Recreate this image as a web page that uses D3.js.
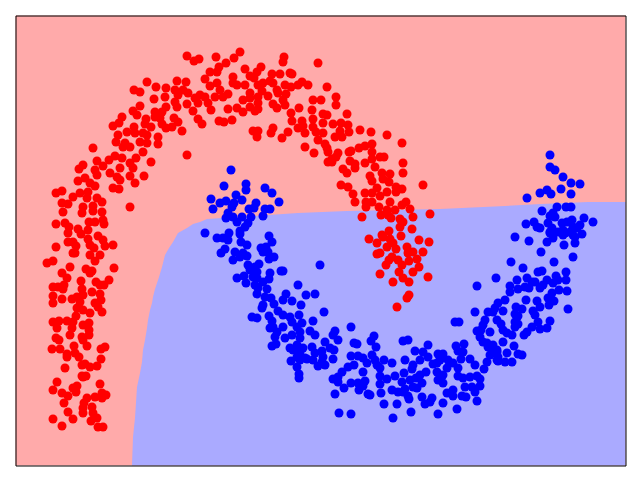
<!DOCTYPE html>
<html>
<head>
<meta charset="utf-8">
<script src="https://cdn.jsdelivr.net/npm/d3@7"></script>
<style>html,body{margin:0;padding:0;background:#fff}svg{display:block}</style>
</head>
<body>
<svg id="chart" width="640" height="480"></svg>
<script>
const xDomain = [-0.5, 609.5];
const yDomain = [-0.5, 449.5];
const regionColors = ["#ffaaaa", "#aaaaff"];
const classColors = ["#ff0000", "#0000ff"];

const boundary = [[116,-0.5],[117,28],[119,47],[121,78],[124,92],[126,103],[127,115],[129,125],[131,137],[132,145],[134,155],[136,162],[137,168],[139,176],[141,182],[143,188],[146,198],[149,210],[153,217],[157,223],[162,232],[171,237],[177,241],[184,243],[191,246],[206,247],[282,252],[331,254],[424,256],[489,259],[525,261],[572,263],[609.5,263]];

const redLower = [[57,212],[59,212],[74,210],[84,210],[79,204],[37,204],[31,202],[54,198],[98,197],[70,196],[76,194],[74,192],[46,192],[51,187],[65,184],[93,185],[80,183],[84,180],[88,180],[48,180],[37,178],[42,178],[47,176],[66,176],[76,173],[84,171],[37,169],[46,166],[37,162],[56,166],[61,168],[67,170],[64,163],[85,165],[79,162],[61,157],[67,155],[82,158],[86,153],[74,152],[60,149],[37,143],[43,144],[51,144],[57,143],[67,140],[73,142],[41,137],[56,137],[73,135],[73,130],[54,130],[66,128],[40,127],[43,125],[67,125],[71,119],[89,118],[85,116],[36,116],[44,116],[58,119],[51,111],[51,108],[59,112],[63,108],[85,106],[66,100],[69,101],[74,98],[81,99],[49,97],[66,89],[70,89],[67,88],[41,83],[84,81],[37,75],[46,72],[52,69],[61,79],[57,77],[60,73],[79,68],[86,72],[90,70],[86,67],[71,67],[68,62],[48,62],[76,58],[67,57],[67,52],[52,53],[77,52],[81,47],[57,46],[37,46],[75,44],[46,39],[82,38],[87,38]];

const redLeft = [[103,342],[97,339],[118,338],[129,341],[135,338],[111,333],[102,330],[119,332],[127,332],[131,330],[142,328],[100,323],[109,322],[107,318],[114,318],[124,323],[131,322],[142,321],[77,317],[127,313],[99,309],[93,305],[106,307],[120,307],[81,304],[87,299],[114,302],[135,303],[67,300],[63,296],[79,295],[81,290],[94,292],[104,297],[117,297],[101,288],[114,289],[128,289],[62,284],[69,287],[74,282],[79,279],[119,282],[104,285],[97,277],[103,276],[46,274],[40,272],[57,268],[64,272],[72,273],[71,267],[81,267],[86,263],[46,262],[52,261],[67,258],[77,259],[47,253],[66,252],[77,254],[86,253],[114,258],[87,245],[79,243],[73,243],[88,241],[40,241],[49,242],[53,238],[52,232],[62,236],[65,231],[72,235],[82,229],[87,225],[72,226],[52,223],[57,223],[60,219],[40,218],[74,220],[78,217],[89,219],[97,220]];

const redTop = [[171,409],[178,404],[183,406],[200,408],[210,402],[203,398],[194,393],[201,393],[189,386],[131,383],[161,384],[170,383],[140,378],[150,377],[118,375],[124,373],[159,375],[167,375],[194,379],[201,382],[204,375],[162,370],[172,372],[212,371],[199,368],[207,368],[138,366],[149,368],[184,370],[189,368],[179,367],[159,363],[124,359],[150,358],[161,358],[171,361],[182,362],[192,362],[177,354],[195,355],[212,356],[117,354],[121,350],[139,353],[146,353],[139,348],[144,347],[158,347],[182,346],[186,341],[203,344],[208,343],[130,346],[162,343],[146,341],[150,337],[156,338],[166,334],[171,310],[106,348]];

const redRight = [[224,413],[218,407],[268,408],[267,403],[302,402],[229,396],[245,398],[241,393],[234,389],[238,387],[256,391],[264,391],[274,392],[276,391],[217,388],[217,382],[229,380],[221,380],[254,384],[247,382],[242,380],[257,382],[269,380],[275,378],[286,383],[282,380],[292,380],[311,378],[246,374],[261,375],[262,372],[234,372],[270,371],[252,369],[242,368],[234,367],[227,365],[267,365],[297,365],[305,365],[320,368],[320,360],[242,362],[257,361],[269,360],[261,357],[234,358],[239,354],[221,357],[227,353],[242,356],[283,357],[296,355],[331,351],[275,352],[307,351],[311,350],[276,344],[286,344],[297,346],[307,342],[216,345],[317,341],[325,342],[287,339],[282,337],[297,338],[332,340],[272,333],[289,332],[300,333],[257,337],[255,332],[237,334],[242,334],[241,328],[266,327],[307,332],[324,334],[319,328],[326,328],[333,333],[302,325],[289,318],[309,321],[311,317],[298,312],[312,313],[320,308],[322,312],[333,313],[316,306],[312,303]];

const redTail = [[355,333],[344,335],[371,330],[386,322],[356,321],[349,319],[343,317],[335,314],[356,313],[364,308],[368,308],[316,303],[334,304],[356,306],[339,301],[387,302],[349,302],[359,298],[339,297],[327,296],[331,292],[387,292],[366,292],[374,291],[354,289],[367,286],[356,284],[373,283],[325,280],[332,278],[407,280],[380,278],[386,276],[380,273],[361,277],[371,273],[337,271],[349,272],[356,272],[364,269],[339,263],[350,263],[356,263],[350,258],[374,263],[390,263],[386,260],[363,258],[394,256],[379,255],[371,255],[414,251],[365,250],[372,250],[346,248],[397,248],[375,247],[384,246],[387,243],[384,238],[396,236],[373,234],[366,230],[385,229],[367,228],[353,226],[361,222],[374,226],[403,225],[413,223],[377,222],[371,218],[380,216],[391,218],[364,212],[361,211],[397,213],[407,213],[392,212],[376,208],[401,206],[373,205],[382,205],[393,204],[386,200],[370,200],[403,198],[383,193],[397,193],[364,191],[412,188],[387,187],[393,183],[377,183],[393,170],[391,167],[381,158]];

const blueUpper = [[215,295],[230,281],[230,275],[208,279],[249,277],[256,272],[220,270],[195,266],[210,264],[204,262],[226,265],[218,262],[216,258],[263,263],[240,262],[197,256],[233,256],[238,257],[249,256],[254,256],[212,252],[247,249],[210,247],[217,248],[226,248],[235,248],[221,243],[232,242],[229,238],[224,234],[224,231],[189,232],[213,232],[201,227],[207,227],[212,225],[253,229],[256,223],[225,223],[231,220],[245,217],[250,218],[209,216],[205,212],[219,213],[247,213],[252,213],[227,212],[224,208],[231,209],[258,208],[253,206],[217,205],[232,200],[243,201],[239,198],[304,200],[234,195],[241,193],[265,194],[267,194],[254,192],[221,187],[228,189],[237,188],[241,187],[253,186],[247,183],[230,182],[239,180],[242,177],[251,176],[282,180],[241,171],[249,168],[270,171],[290,170],[299,171],[255,167]];

const blueMiddle = [[267,165],[276,164],[285,160],[247,160],[246,157],[258,161],[262,154],[308,153],[267,150],[236,148],[241,147],[253,149],[256,144],[274,148],[283,150],[297,144],[276,143],[286,142],[257,138],[267,138],[281,138],[335,138],[254,137],[294,134],[299,130],[319,134],[317,130],[284,133],[261,133],[259,128],[269,127],[276,130],[284,127],[322,125],[309,123],[358,129],[355,124],[338,122],[341,121],[360,118],[260,121],[256,119],[274,117],[281,120],[287,117],[296,118],[314,117],[318,115],[277,115],[306,114],[284,113],[299,112],[335,109],[342,109],[347,107],[281,108],[289,107],[291,106],[307,108],[317,106],[297,105],[275,104],[284,105],[306,103],[309,100],[302,99],[338,100],[332,98],[351,102],[281,98],[347,93],[326,93],[283,91],[283,87],[322,88],[317,86],[349,84],[342,82],[335,82],[322,83],[328,77],[347,79],[343,75],[319,71],[352,71],[323,52],[335,51]];

const blueBottom = [[439,143],[443,143],[469,145],[459,153],[472,153],[465,135],[461,134],[474,133],[387,124],[392,125],[464,128],[467,123],[440,119],[448,121],[412,120],[471,122],[477,120],[399,114],[442,114],[447,113],[407,113],[481,113],[412,108],[422,111],[427,111],[474,110],[356,110],[445,106],[454,106],[359,105],[368,105],[389,105],[404,105],[432,105],[424,105],[481,105],[376,102],[471,103],[361,100],[397,100],[417,101],[421,102],[437,102],[459,100],[364,97],[396,96],[431,97],[468,96],[442,97],[410,93],[388,92],[421,93],[404,90],[427,90],[442,89],[379,89],[364,89],[461,89],[454,88],[371,86],[400,87],[394,85],[422,85],[447,87],[464,86],[386,83],[406,82],[364,81],[427,82],[397,78],[449,78],[389,76],[401,77],[464,79],[456,78],[376,75],[382,73],[387,73],[365,72],[437,75],[459,73],[431,72],[354,70],[392,69],[406,68],[437,69],[446,69],[450,68],[416,67],[393,66],[461,64],[427,62],[414,63],[409,61],[368,61],[381,61],[441,56],[395,53],[422,51],[377,47]];

const blueRising = [[499,228],[513,224],[534,232],[542,233],[549,232],[557,230],[537,227],[531,223],[559,222],[548,220],[525,213],[557,208],[495,203],[538,203],[507,197],[550,193],[522,193],[526,194],[540,189],[511,187],[480,187],[501,185],[542,185],[550,185],[516,183],[531,185],[519,183],[537,182],[461,179],[494,179],[502,176],[509,178],[513,177],[527,180],[524,177],[543,175],[551,174],[494,173],[536,172],[532,167],[489,165],[510,165],[521,164],[538,164],[482,162],[533,160],[524,158],[479,157],[487,154],[500,158],[506,156],[552,156],[517,154],[477,153],[499,151],[519,150],[502,149],[481,145],[499,143],[522,143],[534,144],[502,141],[485,141],[467,140],[499,138],[516,138],[487,135],[524,136],[531,137],[491,132],[511,133],[508,130],[496,130],[487,123],[498,119],[472,118],[481,115],[477,115],[491,112],[502,111],[506,110],[482,108],[482,104],[489,103],[496,103]];

const blueTip = [[534,310],[534,298],[539,295],[547,288],[555,282],[564,281],[545,276],[531,275],[524,272],[535,271],[555,271],[511,267],[541,258],[550,258],[555,258],[526,254],[537,252],[534,249],[539,248],[568,247],[577,243],[556,245],[510,241],[518,243],[532,242],[546,242],[551,243],[564,240],[521,238],[524,237],[557,238],[536,237],[561,237],[534,233],[547,235],[554,233],[537,232],[566,231],[547,230],[559,228]];

const redPoints = [].concat(redLower, redLeft, redTop, redRight, redTail);
const bluePoints = [].concat(blueUpper, blueMiddle, blueBottom, blueRising, blueTip);

const svg = d3.select("#chart");
const plot = {left: 15.5, right: 625.5, top: 15.5, bottom: 465.5};
const x = d3.scaleLinear().domain(xDomain).range([plot.left, plot.right]);
const y = d3.scaleLinear().domain(yDomain).range([plot.bottom, plot.top]);

svg.append("rect")
  .attr("x", plot.left).attr("y", plot.top)
  .attr("width", plot.right - plot.left).attr("height", plot.bottom - plot.top)
  .attr("fill", regionColors[0]);

const area = d3.area()
  .x(d => x(d[0])).y0(y(yDomain[0])).y1(d => y(d[1]))
  .curve(d3.curveLinear);
svg.append("path").datum(boundary).attr("d", area).attr("fill", regionColors[1]);

svg.append("g").selectAll("circle").data(bluePoints).join("circle")
  .attr("cx", d => x(d[0])).attr("cy", d => y(d[1])).attr("r", 4.5).attr("fill", classColors[1]);
svg.append("g").selectAll("circle").data(redPoints).join("circle")
  .attr("cx", d => x(d[0])).attr("cy", d => y(d[1])).attr("r", 4.5).attr("fill", classColors[0]);

const axisBottom = d3.axisBottom(x).tickValues([]).tickSizeOuter(0);
const axisTop = d3.axisTop(x).tickValues([]).tickSizeOuter(0);
const axisLeft = d3.axisLeft(y).tickValues([]).tickSizeOuter(0);
const axisRight = d3.axisRight(y).tickValues([]).tickSizeOuter(0);
svg.append("g").attr("transform", `translate(0,${plot.bottom})`).call(axisBottom);
svg.append("g").attr("transform", `translate(0,${plot.top})`).call(axisTop);
svg.append("g").attr("transform", `translate(${plot.left},0)`).call(axisLeft);
svg.append("g").attr("transform", `translate(${plot.right},0)`).call(axisRight);
svg.selectAll(".domain").attr("stroke", "#000").attr("stroke-width", 1);
</script>
</body>
</html>
